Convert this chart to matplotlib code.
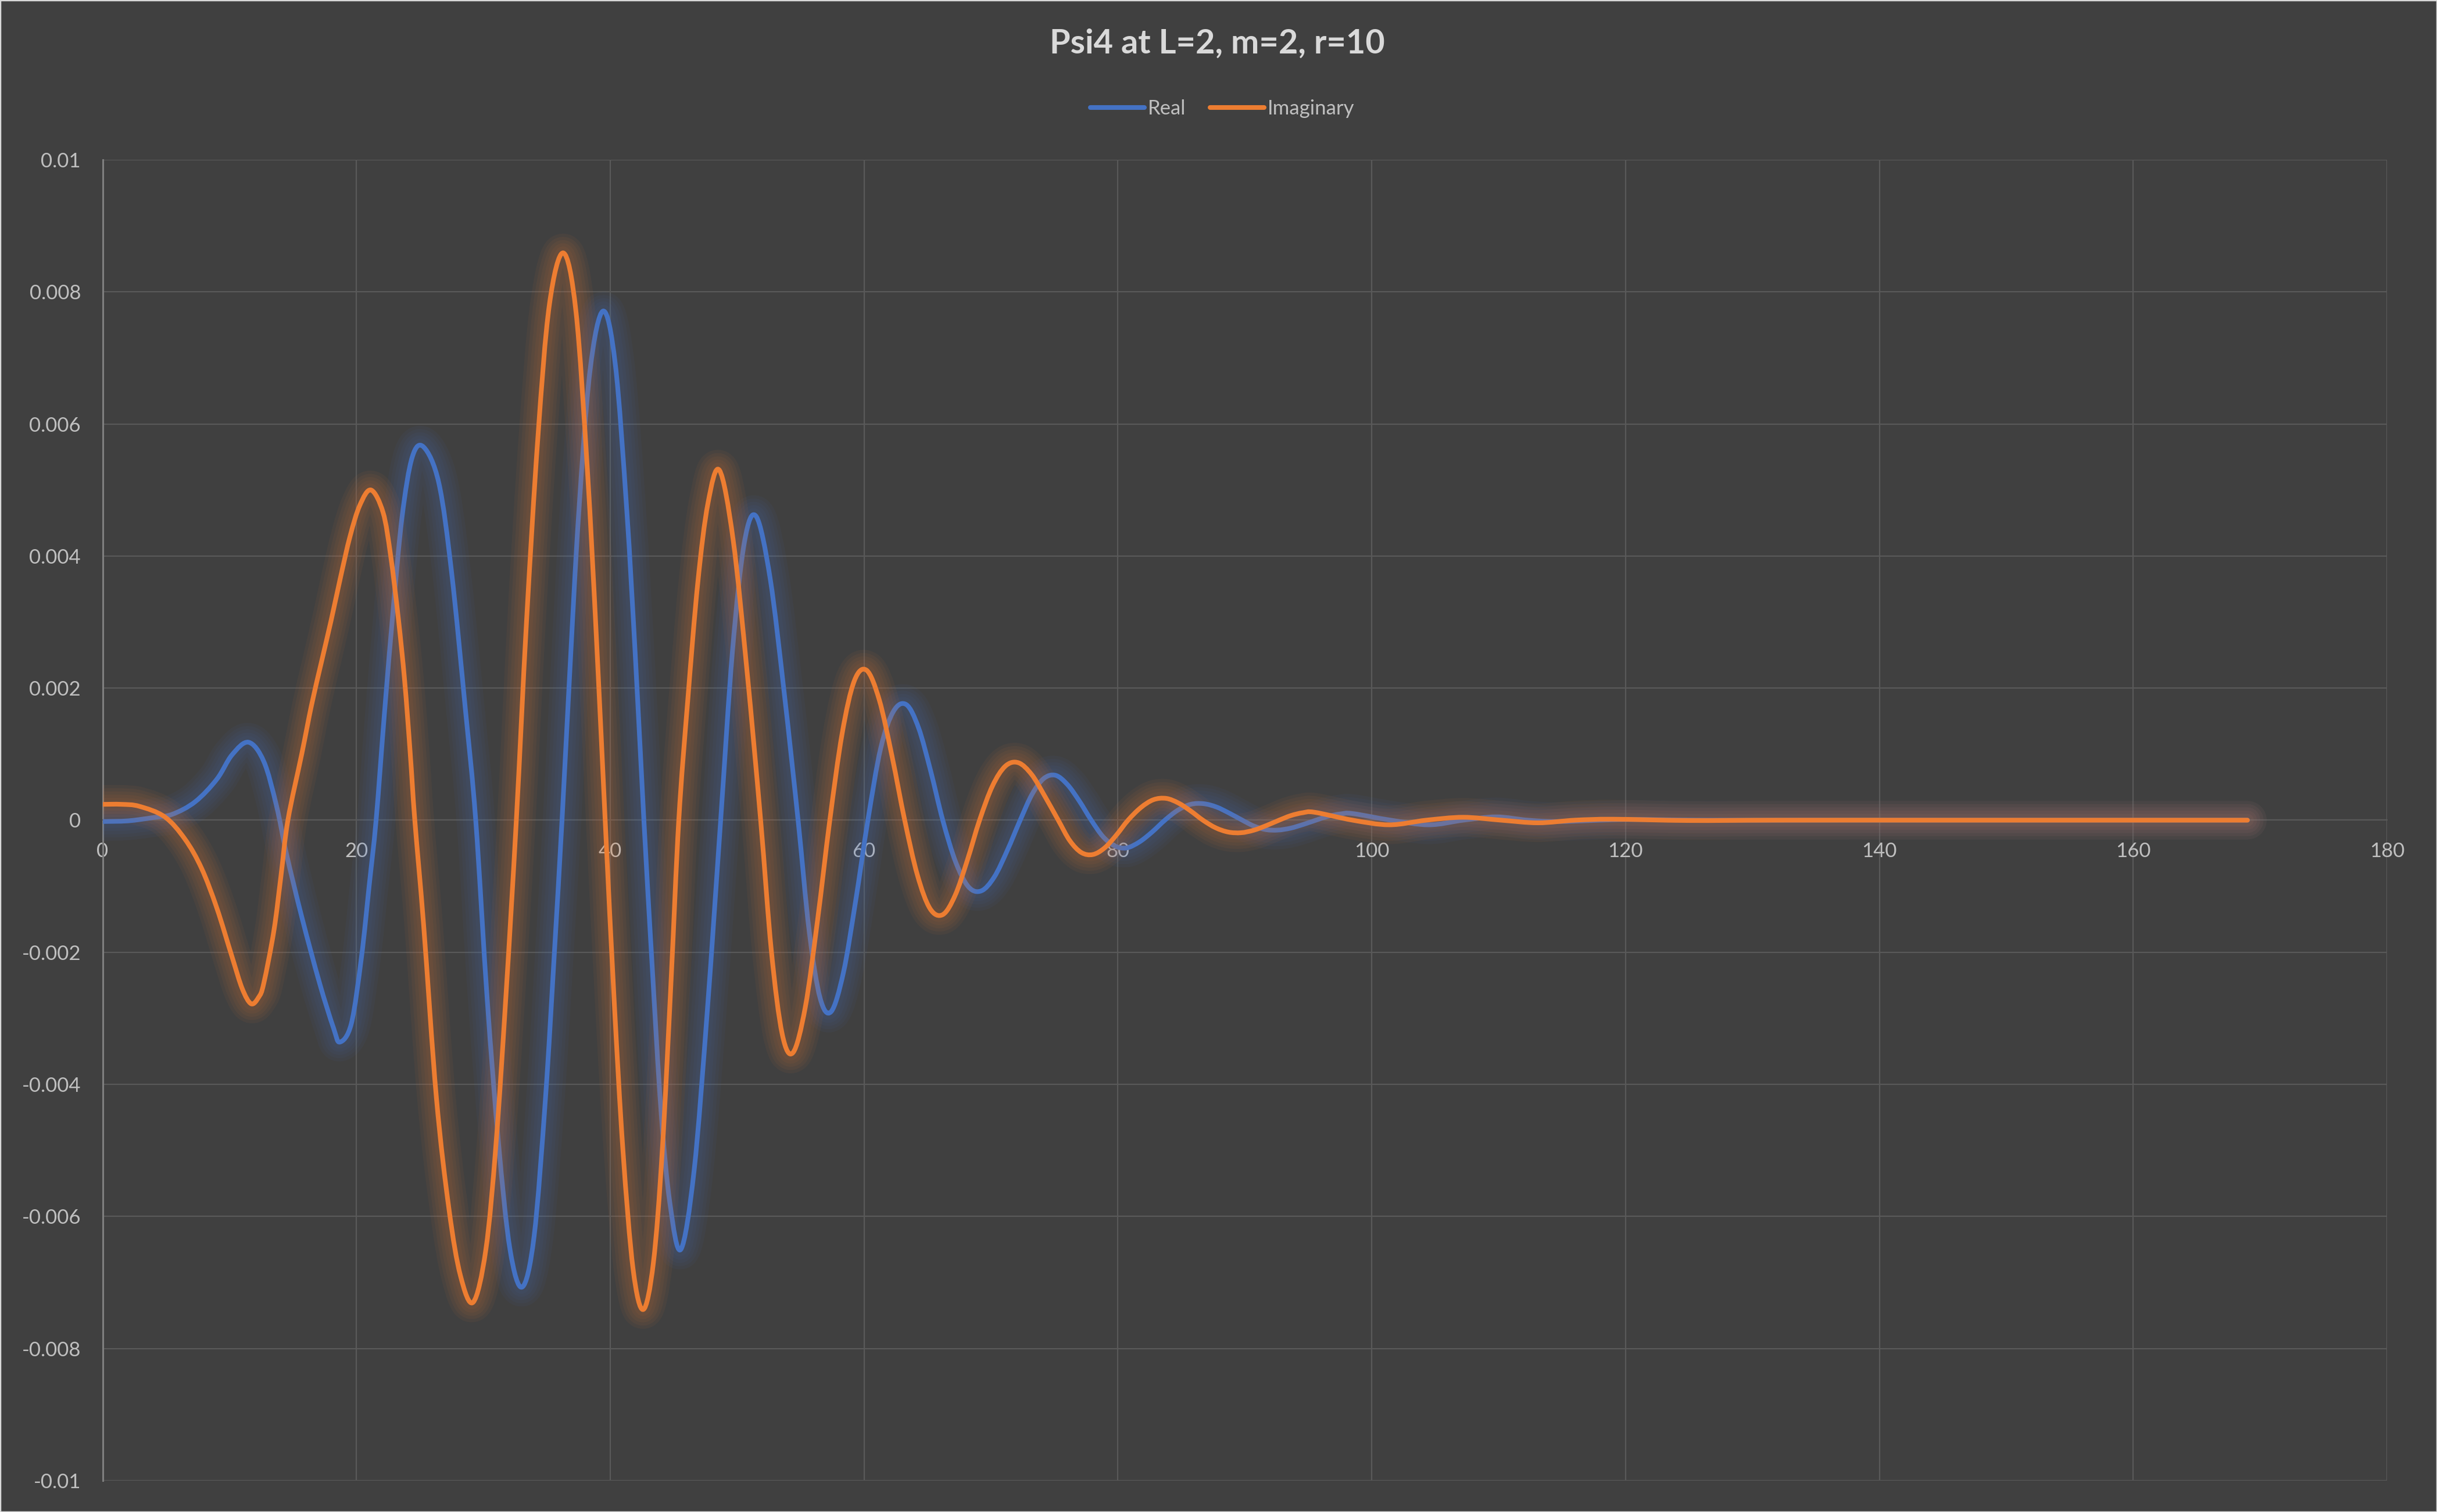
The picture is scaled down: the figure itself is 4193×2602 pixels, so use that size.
import numpy as np
import matplotlib
matplotlib.use("Agg")
import matplotlib.pyplot as plt
from matplotlib.path import Path
from matplotlib.patches import PathPatch, Rectangle
from matplotlib.lines import Line2D
import matplotlib.patheffects as pe

plt.rcParams['font.family'] = ['Lato', 'DejaVu Sans']

title = "Psi4 at L=2, m=2, r=10"
series_names = ["Real", "Imaginary"]

real_t = [0, 2.0, 4.0, 5.5, 7.3, 9.0, 10.2, 11.5, 12.7, 13.7, 14.5, 15.7, 17.1, 18.2, 18.7,
          19.6, 20.4, 21.0, 21.55, 22.2, 22.9, 23.6, 24.4, 25.3, 26.5, 27.5, 28.6, 29.4, 30.3,
          31.2, 32.1, 33.06, 34.0, 34.9, 35.6, 36.2, 36.8, 37.5, 38.4, 39.44, 40.4, 41.3, 42.0,
          42.65, 43.3, 44.0, 44.7, 45.56, 46.61, 47.65, 48.7, 49.63, 50.57, 51.5, 52.6, 53.7,
          54.8, 55.67, 56.53, 57.4, 58.37, 59.33, 60.3, 61.31, 62.32, 63.33, 64.29, 65.24,
          66.2, 67.21, 68.23, 69.24, 70.26, 71.28, 72.3, 73.23, 74.15, 75.08, 76.02, 76.96,
          77.9, 78.83, 79.75, 80.68, 81.69, 82.69, 83.7, 84.71, 85.73, 86.74, 87.76, 88.78,
          89.8, 90.73, 91.67, 92.6, 93.6, 94.6, 95.6, 96.57, 97.53, 98.5, 101.5, 104.5, 107.2,
          109.8, 112.3, 114.8, 120.0, 126.0, 135.0, 145.0, 155.0, 169.0]
real_v = [-0.00002, -0.00001, 0.00004, 0.00009, 0.00028, 0.00062, 0.00099, 0.00118, 0.00089,
          0.00022, -0.00052, -0.00147, -0.00247, -0.00315, -0.00336, -0.00308, -0.00207,
          -0.00100, 0.0, 0.00160, 0.00320, 0.00460, 0.00550, 0.00565, 0.00510, 0.00375,
          0.00165, 0.0, -0.00270, -0.00490, -0.00650, -0.00707, -0.00630, -0.00420, -0.00200,
          0.0, 0.00220, 0.00460, 0.00680, 0.00771, 0.00690, 0.00470, 0.00240, 0.0, -0.00220,
          -0.00440, -0.00580, -0.00650, -0.00530, -0.00288, 0.0, 0.00256, 0.00421, 0.00460,
          0.00366, 0.00194, 0.0, -0.00167, -0.00269, -0.00290, -0.00231, -0.00123, 0.0,
          0.00109, 0.00165, 0.00175, 0.00140, 0.00075, 0.0, -0.00063, -0.00101, -0.00107,
          -0.00086, -0.00046, 0.0, 0.00039, 0.00063, 0.00068, 0.00054, 0.00029, 0.0, -0.00025,
          -0.00039, -0.00042, -0.00033, -0.00018, 0.0, 0.00015, 0.00024, 0.00025, 0.00020,
          0.000106, 0.0, -0.00009, -0.000143, -0.00015, -0.000121, -0.000065, 0.0, 0.000059,
          0.000094, 0.00010, 0.0, -0.00007, 0.0, 0.00005, 0.0, -0.00002, 0.00001, 0.0, 0.0,
          0.0, 0.0, 0.0]

imag_t = [0, 1.5, 2.9, 4.9, 6.5, 7.8, 9.0, 10.2, 11.0, 11.7, 12.3, 12.7, 13.5, 14.05, 14.6,
          15.7, 16.46, 17.2, 18.0, 18.75, 19.5, 20.27, 21.15, 22.1, 22.7, 23.3, 23.8, 24.24,
          24.6, 25.3, 26.3, 27.3, 28.2, 29.2, 30.2, 31.0, 31.8, 32.6, 33.4, 34.3, 35.2, 36.3,
          37.3, 38.2, 38.9, 39.6, 40.3, 41.0, 41.8, 42.6, 43.4, 44.1, 44.8, 45.4, 46.1, 46.9,
          47.7, 48.6, 49.68, 50.77, 51.85, 52.7, 53.55, 54.4, 55.37, 56.33, 57.3, 58.27, 59.23,
          60.2, 61.2, 62.2, 63.2, 64.2, 65.2, 66.2, 67.17, 68.13, 69.1, 70.12, 71.14, 72.16,
          73.21, 74.25, 75.3, 76.21, 77.12, 78.03, 78.95, 79.88, 80.8, 81.8, 82.8, 83.8, 84.77,
          85.73, 86.7, 87.7, 88.7, 89.7, 90.7, 91.7, 92.7, 93.63, 94.57, 95.5, 98.5, 101.4,
          104.3, 107.2, 110.2, 113.1, 116.0, 119.0, 125.0, 132.0, 145.0, 157.0, 169.0]
imag_v = [0.00024, 0.00024, 0.00021, 0.00005, -0.00029, -0.00073, -0.00133, -0.00207, -0.00255,
          -0.00278, -0.00268, -0.00247, -0.00167, -0.00085, 0.0, 0.00101, 0.00174, 0.00236,
          0.00302, 0.00368, 0.00430, 0.00477, 0.00500, 0.00466, 0.00400, 0.00306, 0.00211,
          0.00101, 0.0, -0.00160, -0.00420, -0.00590, -0.00690, -0.00730, -0.00650, -0.00490,
          -0.00260, 0.0, 0.00300, 0.00580, 0.00780, 0.00859, 0.00770, 0.00530, 0.00280, 0.0,
          -0.00270, -0.00500, -0.00680, -0.00741, -0.00670, -0.00500, -0.00240, 0.0, 0.00180,
          0.00360, 0.00480, 0.00530, 0.00425, 0.00227, 0.0, -0.00199, -0.00324, -0.00352,
          -0.00283, -0.00152, 0.0, 0.00131, 0.00211, 0.00227, 0.00182, 0.00097, 0.0, -0.00083,
          -0.00134, -0.00143, -0.00114, -0.00061, 0.0, 0.00052, 0.00082, 0.00087, 0.00069,
          0.00036, 0.0, -0.00031, -0.00049, -0.00052, -0.00042, -0.000225, 0.0, 0.00019,
          0.00031, 0.00033, 0.00026, 0.00014, 0.0, -0.000115, -0.00018, -0.00019, -0.000152,
          -0.000081, 0.0, 0.00007, 0.000113, 0.00012, 0.0, -0.00007, 0.0, 0.000044, 0.0,
          -0.00004, 0.0, 0.000015, -0.000005, 0.0, 0.0, 0.0, 0.0]

x_ticks = [0, 20, 40, 60, 80, 100, 120, 140, 160, 180]
y_ticks = [-0.01, -0.008, -0.006, -0.004, -0.002, 0, 0.002, 0.004, 0.006, 0.008, 0.01]
y_tick_labels = ["-0.01", "-0.008", "-0.006", "-0.004", "-0.002", "0",
                 "0.002", "0.004", "0.006", "0.008", "0.01"]

BG = "#404040"
GRID = "#595959"
TXT = "#BFBFBF"
colors = ["#4472C4", "#ED7D31"]


def smooth_path(xs, ys):
    """Excel-style smoothed line: Catmull-Rom segments as cubic Beziers."""
    pts = np.column_stack([xs, ys]).astype(float)
    n = len(pts)
    verts = [pts[0]]
    codes = [Path.MOVETO]
    for i in range(n - 1):
        p0 = pts[i - 1] if i > 0 else pts[i]
        p1 = pts[i]
        p2 = pts[i + 1]
        p3 = pts[i + 2] if i + 2 < n else pts[i + 1]
        c1 = p1 + (p2 - p0) / 6.0
        c2 = p2 - (p3 - p1) / 6.0
        verts += [c1, c2, p2]
        codes += [Path.CURVE4] * 3
    return Path(verts, codes)


fig = plt.figure(figsize=(41.93, 26.02), dpi=100, facecolor=BG)
ax = fig.add_axes([0.0421, 0.0208, 0.9374, 0.8735], facecolor=BG)

ax.set_xlim(0, 180)
ax.set_ylim(-0.01, 0.01)
ax.set_xticks(x_ticks)
ax.set_yticks(y_ticks)
ax.set_yticklabels(y_tick_labels)
ax.grid(True, color=GRID, linewidth=1.6)
ax.set_axisbelow(True)

for s in ["top", "right"]:
    ax.spines[s].set_visible(False)
ax.spines["bottom"].set_position(("data", 0))
ax.spines["bottom"].set_color(GRID)
ax.spines["bottom"].set_linewidth(1.6)
ax.spines["left"].set_color("#7F7F7F")
ax.spines["left"].set_linewidth(2.2)
ax.tick_params(axis="both", length=0, labelsize=25, labelcolor=TXT)
ax.tick_params(axis="y", pad=27)
ax.tick_params(axis="x", pad=27)

lw = 5.8
for t, v, c in [(real_t, real_v, colors[0]), (imag_t, imag_v, colors[1])]:
    path = smooth_path(t, v)
    glow = [pe.Stroke(linewidth=lw + g, foreground=c, alpha=0.055) for g in (42, 34, 26, 18, 10)]
    patch = PathPatch(path, fill=False, edgecolor=c, linewidth=lw, capstyle="round",
                      joinstyle="round", transform=ax.transData, zorder=3,
                      path_effects=glow + [pe.Normal()])
    ax.add_patch(patch)

handles = [Line2D([], [], color=c, linewidth=lw, solid_capstyle="round") for c in colors]
leg = fig.legend(handles, series_names, loc="center", bbox_to_anchor=(0.5015, 0.928),
                 ncol=2, frameon=False, fontsize=25, handlelength=2.7, handletextpad=0.15,
                 columnspacing=1.2, labelcolor=TXT)

fig.text(0.4995, 0.971, title, ha="center", va="center", fontsize=41.5, fontweight="bold",
         color="#D9D9D9")

fig.patches.append(Rectangle((0, 0), 1, 1, transform=fig.transFigure, fill=False,
                             edgecolor="#D9D9D9", linewidth=2.5))

fig.savefig("out.png", dpi=100, facecolor=BG)
